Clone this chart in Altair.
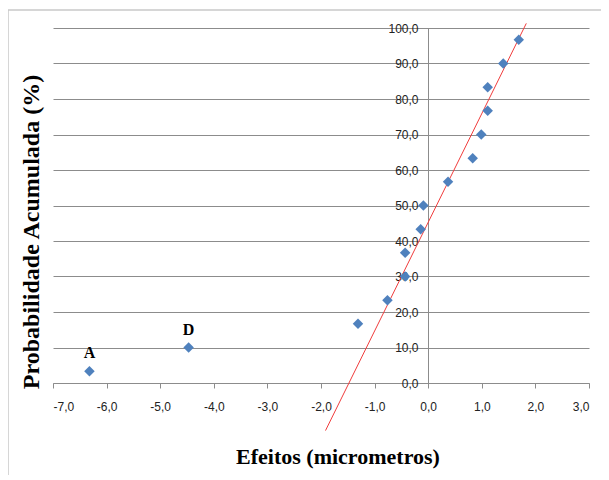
import altair as alt
import pandas as pd

# Effects (x) and cumulative probability (y)
efeitos = [-6.32, -4.47, -1.31, -0.76, -0.43, -0.43, -0.14, -0.09, 0.37, 0.83, 0.99, 1.11, 1.11, 1.40, 1.69]
prob = [3.33, 10.0, 16.67, 23.33, 30.0, 36.67, 43.33, 50.0, 56.67, 63.33, 70.0, 76.67, 83.33, 90.0, 96.67]
rotulos = ["A", "D", "", "", "", "", "", "", "", "", "", "", "", "", ""]

# Fitted reference line end points
linha_x = [-1.916, 1.83]
linha_y = [-13.4, 101.3]

# Axis tick values
x_ticks = [-7, -6, -5, -4, -3, -2, -1, 0, 1, 2, 3]
y_ticks = [0, 10, 20, 30, 40, 50, 60, 70, 80, 90, 100]

pts = pd.DataFrame({"x": efeitos, "y": prob, "lab": rotulos})
lin = pd.DataFrame({"x": linha_x, "y": linha_y})

xs = alt.Scale(domain=[-7, 3], nice=False, zero=False)
ys = alt.Scale(domain=[0, 100], nice=False, zero=False)

lbl = "replace(replace(format(datum.value, '.1f'), '.', ','), '\u2212', '-')"

xax = alt.Axis(values=x_ticks, labelExpr=lbl, grid=False, title=None,
               domainColor="#8c8c8c", tickColor="#8c8c8c", tickSize=5, labelOverlap=False,
               labelFont="Liberation Sans", labelFontSize=12, labelColor="#222222",
               labelPadding=13)
yax = alt.Axis(values=y_ticks, labelExpr=lbl, grid=True, gridColor="#8c8c8c",
               gridWidth=1, domainColor="#8c8c8c", ticks=False, offset=-375, title=None,
               labelOverlap=False,
               labelFont="Liberation Sans", labelFontSize=12, labelColor="#222222",
               labelPadding=10)

X = alt.X("x:Q", scale=xs, axis=xax)
Y = alt.Y("y:Q", scale=ys, axis=yax)

base_pts = alt.Chart(pts)

points = base_pts.mark_point(shape="diamond", filled=True, size=110, color="#4f81bd", opacity=1).encode(
    x=X, y=Y,
)

labels = base_pts.mark_text(font="Liberation Serif", fontWeight="bold", fontSize=16, dy=-18, color="black").encode(
    x=X, y=Y, text="lab:N",
)

line = alt.Chart(lin).mark_line(color="#f03c3c", strokeWidth=1, clip=False).encode(
    x=X, y=Y,
)

xtitle = alt.Chart(pd.DataFrame({"t": ["Efeitos (micrometros)"]})).mark_text(
    font="Liberation Serif", fontWeight="bold", fontSize=22, color="black"
).encode(x=alt.value(285), y=alt.value(74 + 355), text="t:N")

ytitle = alt.Chart(pd.DataFrame({"t": ["Probabilidade Acumulada (%)"]})).mark_text(
    font="Liberation Serif", fontWeight="bold", fontSize=24, color="black", angle=270
).encode(x=alt.value(-21), y=alt.value(204), text="t:N")

frame_left = alt.Chart(pd.DataFrame({"a": [0]})).mark_rule(color="#c8c8c8", strokeWidth=1.5).encode(
    x=alt.value(-45), y=alt.value(-18), y2=alt.value(450))
frame_top = alt.Chart(pd.DataFrame({"a": [0]})).mark_rule(color="#c8c8c8", strokeWidth=1.5).encode(
    x=alt.value(-45), x2=alt.value(560), y=alt.value(-18))

chart = alt.layer(frame_left, frame_top, line, points, labels, xtitle, ytitle).properties(
    width=536, height=355,
    padding={"left": 45, "top": 20, "right": 12, "bottom": 92},
    autosize=alt.AutoSizeParams(type="none"),
    background="white",
).configure_view(stroke=None)

chart.save("out.html", embed_options={"renderer": "svg", "actions": False})
